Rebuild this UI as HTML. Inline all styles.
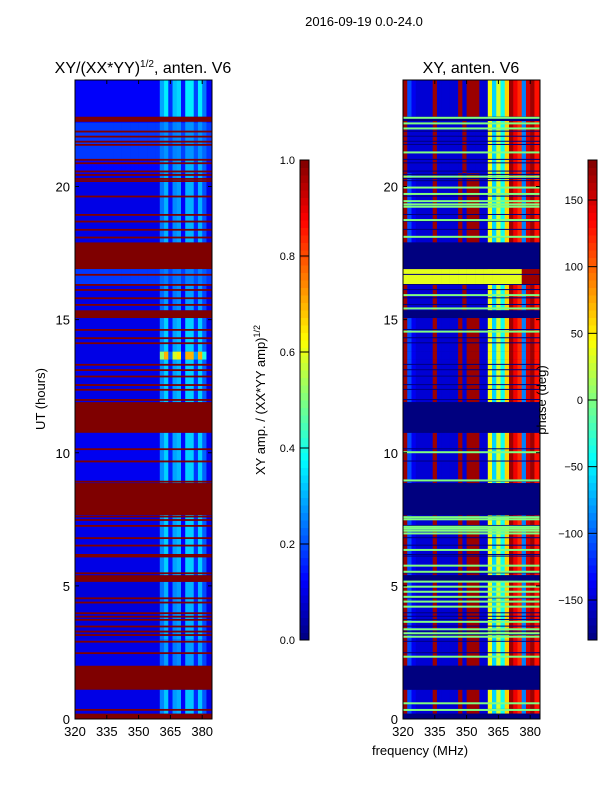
<!DOCTYPE html>
<html><head><meta charset="utf-8">
<style>
html,body{margin:0;padding:0;background:#fff;}
svg{display:block;font-family:"Liberation Sans","DejaVu Sans",sans-serif;}
</style></head>
<body>
<svg id="chart" width="600" height="800" viewBox="0 0 600 800" xmlns="http://www.w3.org/2000/svg">
<text x="364" y="26" font-size="13" text-anchor="middle">2016-09-19 0.0-24.0</text>
<text x="143" y="73" font-size="16" text-anchor="middle">XY/(XX*YY)<tspan font-size="10" dy="-6">1/2</tspan><tspan dy="6">, anten. V6</tspan></text>
<text x="471" y="73" font-size="16" text-anchor="middle">XY, anten. V6</text>
<text transform="translate(45,399) rotate(-90)" font-size="13" text-anchor="middle">UT (hours)</text>
<text x="420" y="755" font-size="13" text-anchor="middle">frequency (MHz)</text>
<text transform="translate(265,400) rotate(-90)" font-size="13" text-anchor="middle">XY amp. / (XX*YY amp)<tspan font-size="9" dy="-5">1/2</tspan></text>
<g id="left"></g>
<g id="right"></g>
<g id="axes"></g>
<g id="cb"></g>
<text transform="translate(546,400) rotate(-90)" font-size="13" text-anchor="middle">phase (deg)</text>
</svg>
<script>
// ---- data ----
const freqBins = [320,322,324,326,328,330,332,334,336,338,340,342,344,346,348,350,352,354,356,358,360,362,364,366,368,370,372,374,376,378,380,382,384];
const ampColWeight = [0,0,0,0,0,0,0,0,0,0,0,0,0,0,0,0,0,0,0,0,0.7,1,0.2,0.8,0.9,0.1,1,1,0.3,1,0.5,0,0];
const phaseCol = [170,-110,-140,-150,-150,-150,-150,170,-150,-150,-150,-150,-150,170,-150,170,170,170,-150,-150,40,-60,30,-40,60,170,140,120,-90,150,170,130,130];
const flagBands = [[0,0.2],[1.1,2.0],[5.15,5.4],[7.66,8.86],[10.75,11.9],[15.06,15.35],[16.9,17.9],[22.5,22.62]];
const flagLines = [0.34,2.47,2.9,3.15,3.28,3.47,3.72,3.84,3.97,4.37,4.53,5.47,6.1,6.16,6.51,6.79,7.25,7.47,7.6,8.91,9.67,10.13,11.98,12.36,12.54,12.86,13.1,13.3,14.11,14.3,14.61,15.55,15.8,16.11,16.3,16.68,18.08,18.37,18.68,18.93,19.62,20.2,20.28,20.43,20.56,20.87,21.0,21.56,21.68,21.87,22.06,22.46];
const greenLines = [0.34,0.59,2.34,3.09,3.22,3.37,3.65,4.22,4.41,4.59,4.78,4.97,5.16,5.53,5.76,6.35,6.97,7.07,7.15,7.22,7.5,7.58,8.96,10.02,14.55,15.42,15.92,18.11,18.74,19.24,19.33,19.45,19.72,19.96,20.37,21.28,22.18,22.37,22.58];
// activity bands: [start, end, stripe level, base level, phase mode]
const bandStart = [0.2,2.0,3.0,5.4,8.86,11.9,13.5,13.8,15.35,16.3,16.9,17.9,20.5,21.0,22.4,22.62];
const bandEnd   = [1.1,3.0,5.15,7.66,10.75,13.5,13.8,15.06,16.3,16.9,17.0,20.5,21.0,22.4,22.5,24];
const bandLevel = [0.32,0.28,0.3,0.33,0.33,0.33,0.7,0.33,0.28,0.25,0.25,0.3,0.3,0.27,0.25,0.36];
const bandBase  = [0.1,0.1,0.09,0.1,0.11,0.1,0.1,0.1,0.1,0.18,0.1,0.1,0.13,0.18,0.13,0.12];
const bandMode  = [0,0,0,0,0,0,0,0,1,2,1,0,1,1,1,0];
const yTicks = [0,5,10,15,20];
const xTicks = [320,335,350,365,380];
const ampTicks = [0.0,0.2,0.4,0.6,0.8,1.0];
const phaseTicks = [-150,-100,-50,0,50,100,150];
// ---- scales ----
const Y0=719, YTOP=80;
const yS = h => Y0 - h*(Y0-YTOP)/24;
const panels=[{x0:75,x1:212,g:'left'},{x0:403,x1:540,g:'right'}];
const xS = (p,f) => p.x0 + (f-320)*2.12;
function jet(v){v=Math.max(0,Math.min(1,v));
 const r=Math.max(0,Math.min(1,1.5-Math.abs(4*v-3))),g=Math.max(0,Math.min(1,1.5-Math.abs(4*v-2))),b=Math.max(0,Math.min(1,1.5-Math.abs(4*v-1)));
 return `rgb(${Math.round(r*255)},${Math.round(g*255)},${Math.round(b*255)})`;}
const pc = d => jet((d+180)/360);
const NS='http://www.w3.org/2000/svg';
function mk(tag,attrs,parent){const e=document.createElementNS(NS,tag);for(const k in attrs)e.setAttribute(k,attrs[k]);parent.appendChild(e);return e;}
const P=panels;
P.forEach((p,pi)=>{
 const g=document.getElementById(p.g);
 const bg=mk('rect',{x:p.x0,y:YTOP,width:p.x1-p.x0,height:Y0-YTOP,fill:pi?'#00007f':jet(0.1)},g);
 
 
 const clip=mk('clipPath',{id:'clip'+pi},g);mk('rect',{x:p.x0,y:YTOP,width:p.x1-p.x0,height:Y0-YTOP},clip);
 const cg=mk('g',{'clip-path':`url(#clip${pi})`},g);
 for(let b=0;b<bandStart.length;b++){
  const yt=yS(bandEnd[b]),yb=yS(bandStart[b]);
  freqBins.forEach((f,c)=>{
   let fill;
   if(pi===0){fill=jet(bandBase[b]+(bandLevel[b]-bandBase[b])*ampColWeight[c]);}
   else{let ph=phaseCol[c];
    if(bandMode[b]===1&&f<360)ph=(c%7===0)?170:-150;
    if(bandMode[b]===2)ph=(f<376)?35:170;
    fill=pc(ph);}
   const r=mk('rect',{x:xS(p,f),y:yt,width:2.12*2+0.3,height:yb-yt,fill:fill},cg);
   
   
  });
 }
 flagBands.forEach(fb=>{
  const r=mk('rect',{x:p.x0,y:yS(fb[1]),width:p.x1-p.x0,height:yS(fb[0])-yS(fb[1]),fill:pi?'#00007f':'#7f0000'},cg);
  
  
 });
 flagLines.forEach(h=>{
  const r=mk('rect',{x:p.x0,y:yS(h)-1,width:p.x1-p.x0,height:pi?1:1.8,fill:pi?'#00007f':'#7f0000'},cg);
  
  
 });
 if(pi===1)greenLines.forEach(h=>{
  const r=mk('rect',{x:p.x0,y:yS(h)-1,width:p.x1-p.x0,height:2,fill:'#80ff80'},cg);
  
  
 });
 const ax=document.getElementById('axes');
 const fr=mk('rect',{x:p.x0,y:YTOP,width:p.x1-p.x0,height:Y0-YTOP,fill:'none',stroke:'#000','stroke-width':1},ax);
 
 
 yTicks.forEach(t=>{
  const y=yS(t);
  mk('line',{x1:p.x0,x2:p.x0+4,y1:y,y2:y,stroke:'#000'},ax);
  mk('line',{x1:p.x1,x2:p.x1-4,y1:y,y2:y,stroke:'#000'},ax);
  const tx=mk('text',{x:p.x0-5,y:y+5,'font-size':13,'text-anchor':'end'},ax);tx.textContent=t;
  
  
 });
 xTicks.forEach(t=>{
  const x=xS(p,t);
  mk('line',{x1:x,x2:x,y1:Y0,y2:Y0-4,stroke:'#000'},ax);
  mk('line',{x1:x,x2:x,y1:YTOP,y2:YTOP+4,stroke:'#000'},ax);
  const tx=mk('text',{x:x,y:Y0+17,'font-size':13,'text-anchor':'middle'},ax);tx.textContent=t;
  
  
 });
});
const cb=document.getElementById('cb');
const CBT=160,CBB=640;
[{x:300,ticks:ampTicks,min:0,max:1,f:v=>v.toFixed(1),col:v=>jet(v)},{x:588,ticks:phaseTicks,min:-180,max:180,f:v=>String(v).replace('-','\u2212'),col:v=>pc(v)}].forEach((c,ci)=>{
 const n=64;
 for(let i=0;i<n;i++){
  const v=c.min+(c.max-c.min)*(i+0.5)/n;
  const y0=CBB-(i+1)*(CBB-CBT)/n;
  const r=mk('rect',{x:c.x,y:y0,width:9,height:(CBB-CBT)/n+0.5,fill:c.col(v)},cb);
  
  
 }
 mk('rect',{x:c.x,y:CBT,width:9,height:CBB-CBT,fill:'none',stroke:'#000','stroke-width':1},cb);
 c.ticks.forEach(t=>{
  const y=CBB-(t-c.min)/(c.max-c.min)*(CBB-CBT);
  mk('line',{x1:c.x,x2:c.x+9,y1:y,y2:y,stroke:'#000'},cb);
  const tx=mk('text',{x:c.x-5,y:y+4,'font-size':11,'text-anchor':'end'},cb);tx.textContent=c.f(t);
  
  
 });
});
</script>
</body></html>
